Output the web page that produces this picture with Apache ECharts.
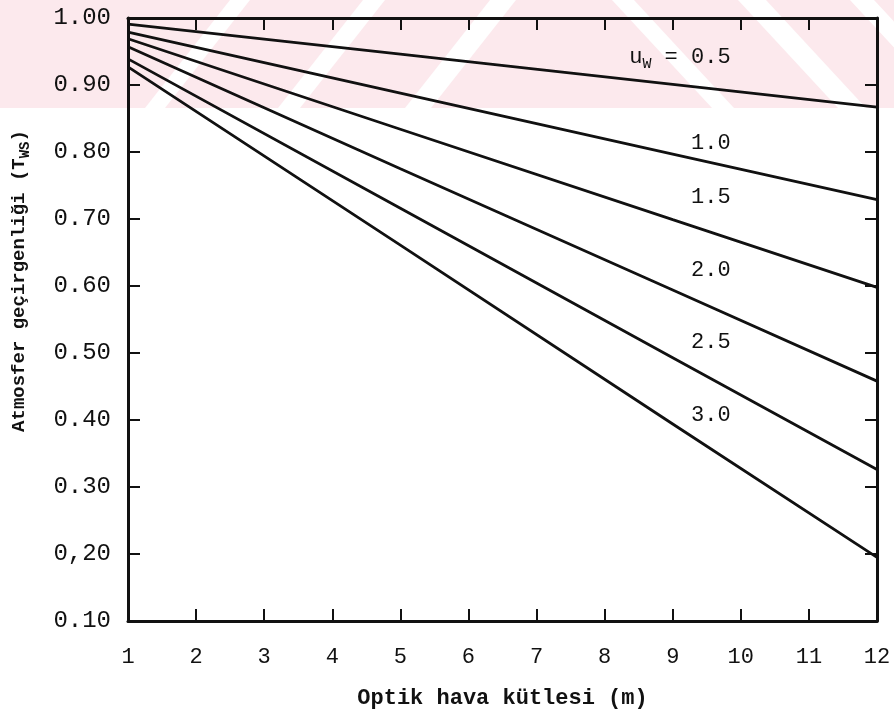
<!DOCTYPE html>
<html>
<head>
<meta charset="utf-8">
<script src="https://cdn.jsdelivr.net/npm/echarts@6/dist/echarts.min.js"></script>
<style>
  html, body { margin: 0; background: #fff; }
  #chart { width: 894px; height: 714px; }
</style>
</head>
<body>
<div id="chart"></div>
<script>
// optik hava kütlesi (m) — okuma noktaları
const airMass = [1, 5, 9, 12]
// su buharı (u_w) eğrileri
const waterVapour = ['0.5', '1.0', '1.5', '2.0', '2.5', '3.0']
const tw05 = [0.991, 0.946, 0.901, 0.867]
const tw10 = [0.979, 0.888, 0.797, 0.729]
const tw15 = [0.969, 0.834, 0.699, 0.598]
const tw20 = [0.957, 0.775, 0.594, 0.458]
const tw25 = [0.939, 0.716, 0.493, 0.326]
const tw30 = [0.927, 0.661, 0.394, 0.195]
const xTickLabels = ['1', '2', '3', '4', '5', '6', '7', '8', '9', '10', '11', '12']
const yTickLabels = ['0.10', '0,20', '0.30', '0.40', '0.50', '0.60', '0.70', '0.80', '0.90', '1.00']

const curves = [tw05, tw10, tw15, tw20, tw25, tw30]
const font = '"Liberation Mono", "DejaVu Sans Mono", monospace'
const ink = '#111'
const pink = '#fce9ed'

// etiket yerleşimi (piksel kaydırma)
const labelAt = 9.85
const labelDy = [-34, -24, -42, -46, -47, -47]

const chart = echarts.init(document.getElementById('chart'))

// çizgi üzerindeki değer (etiketi yerleştirmek için)
const valueAt = (xs, ys, x) => {
  for (let i = 1; i < xs.length; i++) {
    if (x <= xs[i]) {
      const t = (x - xs[i - 1]) / (xs[i] - xs[i - 1])
      return ys[i - 1] + t * (ys[i] - ys[i - 1])
    }
  }
  return ys[ys.length - 1]
}

const series = curves.map((ys, i) => ({
  type: 'line',
  name: waterVapour[i],
  data: airMass.map((x, j) => [x, ys[j]]),
  showSymbol: false,
  lineStyle: { color: ink, width: 2.8 },
  z: 3,
  markPoint: {
    symbol: 'circle',
    symbolSize: 0,
    silent: true,
    data: [{
      coord: [labelAt, valueAt(airMass, ys, labelAt)],
      label: {
        show: true,
        formatter: i === 0 ? '{t|u}{s|W}{t| = ' + waterVapour[i] + '}' : waterVapour[i],
        align: 'right',
        verticalAlign: 'middle',
        offset: [0, labelDy[i]],
        color: ink,
        fontFamily: font,
        fontSize: 22,
        rich: {
          t: { fontFamily: font, fontSize: 22, color: ink },
          s: { fontFamily: font, fontSize: 15, color: ink, padding: [14, 0, 0, 0] }
        }
      }
    }]
  }
}))

// filigran şeritleri (taramadaki pembe bant)
const leftStripe = (b, w) => ({
  type: 'polygon', z: -9, silent: true,
  shape: { points: [[b, 108], [b + w, 108], [b + w + 85, 0], [b + 85, 0]] },
  style: { fill: '#fff' }
})
const rightStripe = (t, w) => ({
  type: 'polygon', z: -9, silent: true,
  shape: { points: [[t, 0], [t + w, 0], [t + w + 100, 108], [t + 100, 108]] },
  style: { fill: '#fff' }
})

const tickStyle = { inside: true, length: 12, lineStyle: { color: ink, width: 2 } }
const lineStyle = { show: true, lineStyle: { color: ink, width: 3 } }

const option = {
  animation: false,
  backgroundColor: '#fff',
  grid: { left: 128, right: 17, top: 18, bottom: 92 },
  graphic: [
    { type: 'rect', z: -10, silent: true, shape: { x: 0, y: 0, width: 894, height: 108 }, style: { fill: pink } },
    leftStripe(145, 20),
    leftStripe(278, 22),
    leftStripe(405, 26),
    rightStripe(612, 22),
    rightStripe(738, 28),
    rightStripe(850, 24),
    {
      type: 'text',
      x: 19, y: 281,
      rotation: Math.PI / 2,
      style: {
        text: 'Atmosfer geçirgenliği (T{s|WS})',
        fontFamily: font, fontSize: 19, fontWeight: 'bold', fill: ink,
        align: 'center', verticalAlign: 'middle',
        rich: {
          s: { fontFamily: font, fontSize: 14, fontWeight: 'bold', fill: ink, padding: [12, 0, 0, 0] }
        }
      }
    }
  ],
  xAxis: [{
    type: 'value',
    min: 1, max: 12, interval: 1,
    name: 'Optik hava kütlesi (m)',
    nameLocation: 'middle',
    nameGap: 66,
    nameTextStyle: { fontFamily: font, fontSize: 22, fontWeight: 'bold', color: ink },
    axisLine: lineStyle,
    axisTick: tickStyle,
    splitLine: { show: false },
    axisLabel: {
      margin: 25,
      fontFamily: font, fontSize: 22, color: ink,
      formatter: v => xTickLabels[Math.round(v) - 1]
    }
  }, {
    type: 'value', position: 'top',
    min: 1, max: 12, interval: 1,
    axisLine: lineStyle, axisTick: tickStyle,
    axisLabel: { show: false }, splitLine: { show: false }
  }],
  yAxis: [{
    type: 'value',
    min: 0.1, max: 1.0, interval: 0.1,
    axisLine: lineStyle,
    axisTick: tickStyle,
    splitLine: { show: false },
    axisLabel: {
      margin: 17,
      fontFamily: font, fontSize: 24, color: ink,
      formatter: v => yTickLabels[Math.round(v * 10) - 1]
    }
  }, {
    type: 'value', position: 'right',
    min: 0.1, max: 1.0, interval: 0.1,
    axisLine: lineStyle, axisTick: tickStyle,
    axisLabel: { show: false }, splitLine: { show: false }
  }],
  series: series
}

chart.setOption(option)
</script>
</body>
</html>
